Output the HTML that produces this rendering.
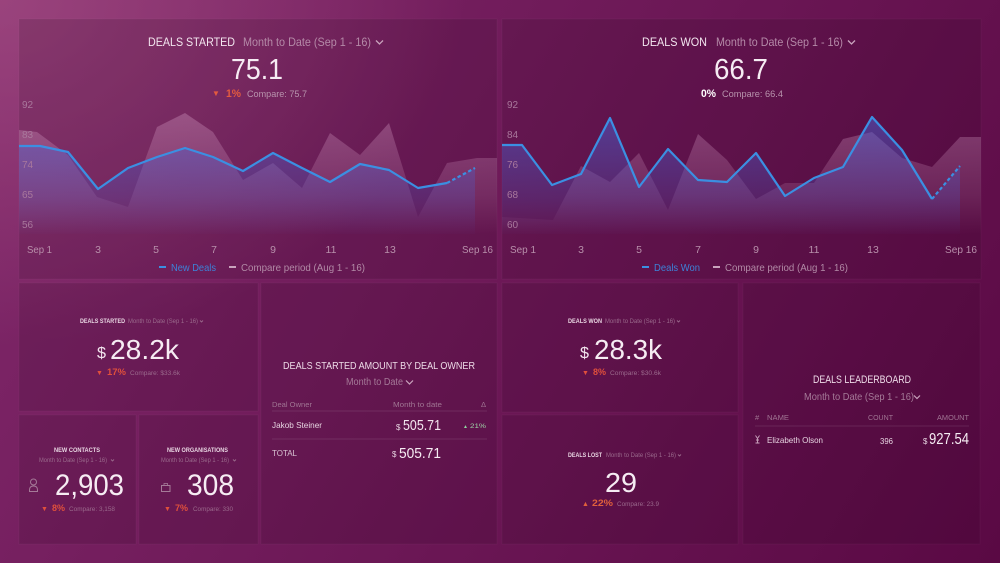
<!DOCTYPE html>
<html>
<head>
<meta charset="utf-8">
<style>
html,body{margin:0;padding:0;width:1000px;height:563px;overflow:hidden;}
body{
  background:
    radial-gradient(ellipse 620px 460px at 0% 0%, rgba(175,90,140,0.55), rgba(175,90,140,0) 75%),
    linear-gradient(120deg, #80286a 0%, #5a0944 100%);
  font-family:"Liberation Sans", sans-serif;
}
svg{position:absolute;left:0;top:0;}
text{font-family:"Liberation Sans", sans-serif;}
</style>
</head>
<body>
<svg width="1000" height="563" viewBox="0 0 1000 563" xmlns="http://www.w3.org/2000/svg">
  <defs>
    <linearGradient id="gCmp" gradientUnits="userSpaceOnUse" x1="0" y1="105" x2="0" y2="234">
      <stop offset="0" stop-color="#d49cc4" stop-opacity="0.38"/>
      <stop offset="0.7" stop-color="#d49cc4" stop-opacity="0.16"/>
      <stop offset="1" stop-color="#d49cc4" stop-opacity="0"/>
    </linearGradient>
    <linearGradient id="gBlue" gradientUnits="userSpaceOnUse" x1="0" y1="115" x2="0" y2="234">
      <stop offset="0" stop-color="#4a5fd0" stop-opacity="0.55"/>
      <stop offset="0.7" stop-color="#4a5fd0" stop-opacity="0.22"/>
      <stop offset="1" stop-color="#4a5fd0" stop-opacity="0.02"/>
    </linearGradient>
  </defs>

  <!-- Panels -->
  <g fill="rgba(25,0,18,0.14)" stroke="rgba(255,255,255,0.03)" stroke-width="1">
    <rect x="19" y="19" width="478" height="260"/>
    <rect x="502" y="19" width="479" height="260"/>
    <rect x="19" y="283" width="239" height="128"/>
    <rect x="19" y="415" width="117" height="129"/>
    <rect x="139" y="415" width="119" height="129"/>
    <rect x="261" y="283" width="236" height="261"/>
    <rect x="502" y="283" width="236" height="129"/>
    <rect x="502" y="415" width="236" height="129"/>
    <rect x="743" y="283" width="237" height="261"/>
  </g>

  <!-- ================= TOP-LEFT CHART ================= -->
  <text x="148" y="46" font-size="12" fill="#f3e6ef" textLength="87" lengthAdjust="spacingAndGlyphs">DEALS STARTED</text>
  <text x="243" y="46" font-size="12" fill="#b58aa8" textLength="128" lengthAdjust="spacingAndGlyphs">Month to Date (Sep 1 - 16)</text>
  <polyline points="376,40.5 379.5,44 383,40.5" fill="none" stroke="#c9a3bd" stroke-width="1.3"/>
  <text x="231" y="79" font-size="29" fill="#f6ecf3" textLength="52" lengthAdjust="spacingAndGlyphs">75.1</text>
  <text x="212" y="96" font-size="8" fill="#e35b3f">▼</text>
  <text x="226" y="97" font-size="11" font-weight="bold" fill="#e35b3f" textLength="15" lengthAdjust="spacingAndGlyphs">1%</text>
  <text x="247" y="97" font-size="9.5" fill="#b894ad" textLength="60" lengthAdjust="spacingAndGlyphs">Compare: 75.7</text>

  <polygon fill="url(#gCmp)" points="19,130 37,132 68,155 97,197 128,207 157,127 185,113 213,132 243,180 273,163 302,188 330,133 360,155 389,123 418,217 447,163 477,158 497,158 497,234 19,234"/>
  <polygon fill="url(#gBlue)" points="19,146 40,146 68,152 98,189 128,168 157,157 185,148 213,157 243,171 273,153 302,168 330,182 360,164 389,170 418,188 447,183 475,168 475,234 19,234"/>
  <polyline fill="none" stroke="#3b8fe2" stroke-width="2.2" stroke-linejoin="round" points="19,146 40,146 68,152 98,189 128,168 157,157 185,148 213,157 243,171 273,153 302,168 330,182 360,164 389,170 418,188 447,183"/>
  <line x1="447" y1="183" x2="475" y2="168" stroke="#3b8fe2" stroke-width="2.2" stroke-dasharray="3.5,2.5"/>

  <g font-size="10" fill="#a9789c">
    <text x="22" y="108">92</text>
    <text x="22" y="138">83</text>
    <text x="22" y="168">74</text>
    <text x="22" y="198">65</text>
    <text x="22" y="228">56</text>
  </g>
  <g font-size="10.5" fill="#b890ab">
    <text x="27" y="253" textLength="25" lengthAdjust="spacingAndGlyphs">Sep 1</text>
    <text x="98" y="253" text-anchor="middle">3</text>
    <text x="156" y="253" text-anchor="middle">5</text>
    <text x="214" y="253" text-anchor="middle">7</text>
    <text x="273" y="253" text-anchor="middle">9</text>
    <text x="331" y="253" text-anchor="middle">11</text>
    <text x="390" y="253" text-anchor="middle">13</text>
    <text x="462" y="253" textLength="31" lengthAdjust="spacingAndGlyphs">Sep 16</text>
  </g>
  <line x1="159" y1="267" x2="166" y2="267" stroke="#3b8fe2" stroke-width="2"/>
  <text x="171" y="271" font-size="10.5" fill="#3d82d8" textLength="45" lengthAdjust="spacingAndGlyphs">New Deals</text>
  <line x1="229" y1="267" x2="236" y2="267" stroke="#c9a3bd" stroke-width="2"/>
  <text x="241" y="271" font-size="10.5" fill="#b28aa6" textLength="124" lengthAdjust="spacingAndGlyphs">Compare period (Aug 1 - 16)</text>

  <!-- ================= TOP-RIGHT CHART ================= -->
  <text x="642" y="46" font-size="12" fill="#f3e6ef" textLength="65" lengthAdjust="spacingAndGlyphs">DEALS WON</text>
  <text x="716" y="46" font-size="12" fill="#b58aa8" textLength="127" lengthAdjust="spacingAndGlyphs">Month to Date (Sep 1 - 16)</text>
  <polyline points="848,40.5 851.5,44 855,40.5" fill="none" stroke="#c9a3bd" stroke-width="1.3"/>
  <text x="714" y="79" font-size="29" fill="#f6ecf3" textLength="54" lengthAdjust="spacingAndGlyphs">66.7</text>
  <text x="701" y="97" font-size="11" font-weight="bold" fill="#ffffff" textLength="15" lengthAdjust="spacingAndGlyphs">0%</text>
  <text x="722" y="97" font-size="9.5" fill="#b894ad" textLength="61" lengthAdjust="spacingAndGlyphs">Compare: 66.4</text>

  <polygon fill="url(#gCmp)" points="502,217 553,220 581,166 610,182 639,153 668,210 698,134 727,160 756,199 785,183 814,183 843,139 872,132 902,158 932,167 960,137 981,137 981,234 502,234"/>
  <polygon fill="url(#gBlue)" points="502,145 522,145 552,185 581,174 610,118 639,187 668,149 698,180 727,182 756,153 785,196 814,178 843,167 872,117 902,150 932,199 960,166 960,234 502,234"/>
  <polyline fill="none" stroke="#3b8fe2" stroke-width="2.2" stroke-linejoin="round" points="502,145 522,145 552,185 581,174 610,118 639,187 668,149 698,180 727,182 756,153 785,196 814,178 843,167 872,117 902,150 932,199"/>
  <line x1="932" y1="199" x2="960" y2="166" stroke="#3b8fe2" stroke-width="2.2" stroke-dasharray="3.5,2.5"/>

  <g font-size="10" fill="#a9789c">
    <text x="507" y="108">92</text>
    <text x="507" y="138">84</text>
    <text x="507" y="168">76</text>
    <text x="507" y="198">68</text>
    <text x="507" y="228">60</text>
  </g>
  <g font-size="10.5" fill="#b890ab">
    <text x="510" y="253" textLength="26" lengthAdjust="spacingAndGlyphs">Sep 1</text>
    <text x="581" y="253" text-anchor="middle">3</text>
    <text x="639" y="253" text-anchor="middle">5</text>
    <text x="698" y="253" text-anchor="middle">7</text>
    <text x="756" y="253" text-anchor="middle">9</text>
    <text x="814" y="253" text-anchor="middle">11</text>
    <text x="873" y="253" text-anchor="middle">13</text>
    <text x="945" y="253" textLength="32" lengthAdjust="spacingAndGlyphs">Sep 16</text>
  </g>
  <line x1="642" y1="267" x2="649" y2="267" stroke="#3b8fe2" stroke-width="2"/>
  <text x="654" y="271" font-size="10.5" fill="#3d82d8" textLength="46" lengthAdjust="spacingAndGlyphs">Deals Won</text>
  <line x1="713" y1="267" x2="720" y2="267" stroke="#c9a3bd" stroke-width="2"/>
  <text x="725" y="271" font-size="10.5" fill="#b28aa6" textLength="123" lengthAdjust="spacingAndGlyphs">Compare period (Aug 1 - 16)</text>

  <!-- ================= DEALS STARTED (small) ================= -->
  <text x="80" y="323" font-size="6" font-weight="bold" fill="#e8d5e2" textLength="45" lengthAdjust="spacingAndGlyphs">DEALS STARTED</text>
  <text x="128" y="323" font-size="6" fill="#9a6a8c" textLength="70" lengthAdjust="spacingAndGlyphs">Month to Date (Sep 1 - 16)</text>
  <polyline points="200,320.5 201.5,322 203,320.5" fill="none" stroke="#9a6a8c" stroke-width="0.9"/>
  <text x="97" y="358" font-size="16" fill="#f3e6ef" textLength="9" lengthAdjust="spacingAndGlyphs">$</text>
  <text x="110" y="359" font-size="28" fill="#f6ecf3" textLength="69" lengthAdjust="spacingAndGlyphs">28.2k</text>
  <text x="96" y="375" font-size="7" fill="#e0503c">▼</text>
  <text x="107" y="375" font-size="9" font-weight="bold" fill="#e0503c" textLength="19" lengthAdjust="spacingAndGlyphs">17%</text>
  <text x="130" y="375" font-size="6.5" fill="#9a6a8c" textLength="50" lengthAdjust="spacingAndGlyphs">Compare: $33.6k</text>

  <!-- ================= NEW CONTACTS ================= -->
  <text x="54" y="452" font-size="6" font-weight="bold" fill="#e8d5e2" textLength="46" lengthAdjust="spacingAndGlyphs">NEW CONTACTS</text>
  <text x="39" y="462" font-size="6" fill="#9a6a8c" textLength="68" lengthAdjust="spacingAndGlyphs">Month to Date (Sep 1 - 16)</text>
  <polyline points="111,459.5 112.5,461 114,459.5" fill="none" stroke="#9a6a8c" stroke-width="0.9"/>
  <circle cx="33.5" cy="482" r="3" fill="none" stroke="#a57a98" stroke-width="1"/>
  <path d="M29.5,491.5 v-1.5 q0,-4 4,-4 q4,0 4,4 v1.5 z" fill="none" stroke="#a57a98" stroke-width="1"/>
  <text x="55" y="495" font-size="30" fill="#f6ecf3" textLength="69" lengthAdjust="spacingAndGlyphs">2,903</text>
  <text x="41" y="511" font-size="7" fill="#e0503c">▼</text>
  <text x="52" y="511" font-size="9" font-weight="bold" fill="#e0503c" textLength="13" lengthAdjust="spacingAndGlyphs">8%</text>
  <text x="69" y="511" font-size="6.5" fill="#9a6a8c" textLength="46" lengthAdjust="spacingAndGlyphs">Compare: 3,158</text>

  <!-- ================= NEW ORGANISATIONS ================= -->
  <text x="167" y="452" font-size="6" font-weight="bold" fill="#e8d5e2" textLength="61" lengthAdjust="spacingAndGlyphs">NEW ORGANISATIONS</text>
  <text x="161" y="462" font-size="6" fill="#9a6a8c" textLength="68" lengthAdjust="spacingAndGlyphs">Month to Date (Sep 1 - 16)</text>
  <polyline points="233,459.5 234.5,461 236,459.5" fill="none" stroke="#9a6a8c" stroke-width="0.9"/>
  <rect x="161.5" y="485.5" width="8.5" height="6" fill="none" stroke="#a57a98" stroke-width="1"/>
  <rect x="164" y="483.5" width="3.5" height="2" fill="none" stroke="#a57a98" stroke-width="0.8"/>
  <text x="187" y="495" font-size="30" fill="#f6ecf3" textLength="47" lengthAdjust="spacingAndGlyphs">308</text>
  <text x="164" y="511" font-size="7" fill="#e0503c">▼</text>
  <text x="175" y="511" font-size="9" font-weight="bold" fill="#e0503c" textLength="13" lengthAdjust="spacingAndGlyphs">7%</text>
  <text x="193" y="511" font-size="6.5" fill="#9a6a8c" textLength="40" lengthAdjust="spacingAndGlyphs">Compare: 330</text>

  <!-- ================= DEALS STARTED AMOUNT BY DEAL OWNER ================= -->
  <text x="283" y="369" font-size="10.5" fill="#eedbe8" textLength="192" lengthAdjust="spacingAndGlyphs">DEALS STARTED AMOUNT BY DEAL OWNER</text>
  <text x="346" y="385" font-size="10" fill="#a57a98" textLength="57" lengthAdjust="spacingAndGlyphs">Month to Date</text>
  <polyline points="406,380.5 409.5,384 413,380.5" fill="none" stroke="#c9a3bd" stroke-width="1.2"/>
  <text x="272" y="407" font-size="7.5" fill="#a07593" textLength="40" lengthAdjust="spacingAndGlyphs">Deal Owner</text>
  <text x="393" y="407" font-size="7.5" fill="#a07593" textLength="49" lengthAdjust="spacingAndGlyphs">Month to date</text>
  <text x="481" y="407" font-size="7.5" fill="#a07593">Δ</text>
  <line x1="272" y1="411" x2="487" y2="411" stroke="rgba(255,255,255,0.1)" stroke-width="1"/>
  <text x="272" y="428" font-size="8.5" fill="#e6d3e0" textLength="50" lengthAdjust="spacingAndGlyphs">Jakob Steiner</text>
  <text x="396" y="430" font-size="8" fill="#e6d3e0">$</text>
  <text x="403" y="430" font-size="15" fill="#f3e6ef" textLength="38" lengthAdjust="spacingAndGlyphs">505.71</text>
  <text x="463" y="428" font-size="5" fill="#8fd49f">▲</text>
  <text x="470" y="428" font-size="6" fill="#9fd6a8" textLength="16" lengthAdjust="spacingAndGlyphs">21%</text>
  <line x1="272" y1="439" x2="487" y2="439" stroke="rgba(255,255,255,0.1)" stroke-width="1"/>
  <text x="272" y="456" font-size="8.5" fill="#d8c3d2" textLength="25" lengthAdjust="spacingAndGlyphs">TOTAL</text>
  <text x="392" y="457" font-size="8" fill="#e6d3e0">$</text>
  <text x="399" y="458" font-size="15" fill="#f6ecf3" textLength="42" lengthAdjust="spacingAndGlyphs">505.71</text>

  <!-- ================= DEALS WON (small) ================= -->
  <text x="568" y="323" font-size="6" font-weight="bold" fill="#e8d5e2" textLength="34" lengthAdjust="spacingAndGlyphs">DEALS WON</text>
  <text x="605" y="323" font-size="6" fill="#9a6a8c" textLength="70" lengthAdjust="spacingAndGlyphs">Month to Date (Sep 1 - 16)</text>
  <polyline points="677,320.5 678.5,322 680,320.5" fill="none" stroke="#9a6a8c" stroke-width="0.9"/>
  <text x="580" y="358" font-size="16" fill="#f3e6ef" textLength="9" lengthAdjust="spacingAndGlyphs">$</text>
  <text x="594" y="359" font-size="28" fill="#f6ecf3" textLength="68" lengthAdjust="spacingAndGlyphs">28.3k</text>
  <text x="582" y="375" font-size="7" fill="#e0503c">▼</text>
  <text x="593" y="375" font-size="9" font-weight="bold" fill="#e0503c" textLength="13" lengthAdjust="spacingAndGlyphs">8%</text>
  <text x="610" y="375" font-size="6.5" fill="#9a6a8c" textLength="51" lengthAdjust="spacingAndGlyphs">Compare: $30.6k</text>

  <!-- ================= DEALS LOST ================= -->
  <text x="568" y="457" font-size="6" font-weight="bold" fill="#e8d5e2" textLength="34" lengthAdjust="spacingAndGlyphs">DEALS LOST</text>
  <text x="606" y="457" font-size="6" fill="#9a6a8c" textLength="70" lengthAdjust="spacingAndGlyphs">Month to Date (Sep 1 - 16)</text>
  <polyline points="678,454.5 679.5,456 681,454.5" fill="none" stroke="#9a6a8c" stroke-width="0.9"/>
  <text x="605" y="492" font-size="28" fill="#f6ecf3" textLength="32" lengthAdjust="spacingAndGlyphs">29</text>
  <text x="582" y="506" font-size="7" fill="#e0603c">▲</text>
  <text x="592" y="506" font-size="9" font-weight="bold" fill="#e0603c" textLength="21" lengthAdjust="spacingAndGlyphs">22%</text>
  <text x="617" y="506" font-size="6.5" fill="#9a6a8c" textLength="42" lengthAdjust="spacingAndGlyphs">Compare: 23.9</text>

  <!-- ================= DEALS LEADERBOARD ================= -->
  <text x="813" y="383" font-size="11" fill="#eedbe8" textLength="98" lengthAdjust="spacingAndGlyphs">DEALS LEADERBOARD</text>
  <text x="804" y="400" font-size="10.5" fill="#a57a98" textLength="110" lengthAdjust="spacingAndGlyphs">Month to Date (Sep 1 - 16)</text>
  <polyline points="914,395.5 917,398.5 920,395.5" fill="none" stroke="#c9a3bd" stroke-width="1.2"/>
  <g font-size="7.5" fill="#a07593">
    <text x="755" y="420">#</text>
    <text x="767" y="420" textLength="22" lengthAdjust="spacingAndGlyphs">NAME</text>
    <text x="868" y="420" textLength="25" lengthAdjust="spacingAndGlyphs">COUNT</text>
    <text x="937" y="420" textLength="32" lengthAdjust="spacingAndGlyphs">AMOUNT</text>
  </g>
  <line x1="755" y1="426" x2="969" y2="426" stroke="rgba(255,255,255,0.1)" stroke-width="1"/>
  <path d="M755.5,435.5 L757.5,438.5 L759.5,435.5 M757.5,438.5 V443 M755.5,443 H759.5 M756,440 H759" fill="none" stroke="#c9a3bd" stroke-width="0.9"/>
  <text x="767" y="443" font-size="8.5" fill="#e6d3e0" textLength="56" lengthAdjust="spacingAndGlyphs">Elizabeth Olson</text>
  <text x="880" y="444" font-size="8" fill="#e6d3e0" textLength="13" lengthAdjust="spacingAndGlyphs">396</text>
  <text x="923" y="444" font-size="8" fill="#e6d3e0">$</text>
  <text x="929" y="444" font-size="15.5" fill="#f6ecf3" textLength="40" lengthAdjust="spacingAndGlyphs">927.54</text>
</svg>
</body>
</html>
